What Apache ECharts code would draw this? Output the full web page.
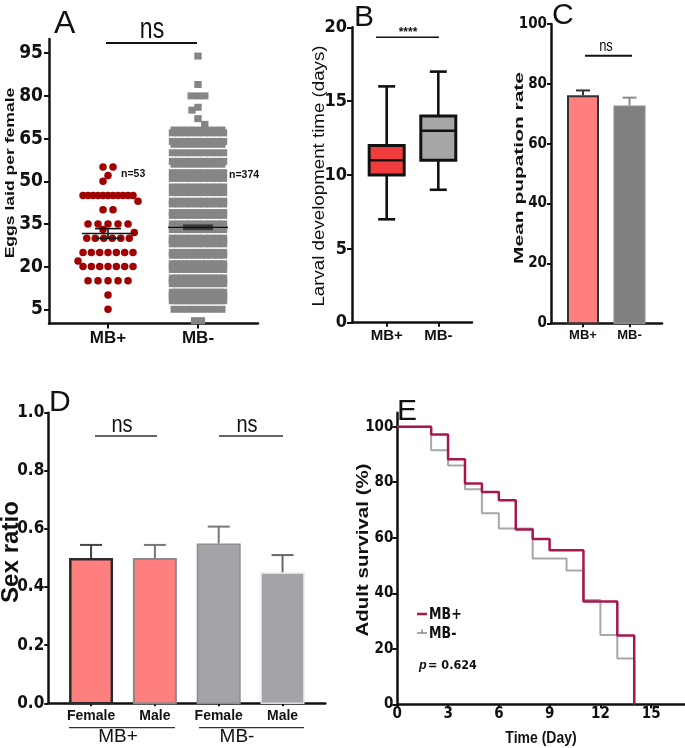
<!DOCTYPE html>
<html><head><meta charset="utf-8">
<script src="https://cdn.jsdelivr.net/npm/echarts@6/dist/echarts.min.js"></script>
<style>html,body{margin:0;padding:0;background:#fff}#c{width:685px;height:748px}</style>
</head><body><div id="c"></div>
<script>
// ---------------- DATA ----------------
const groups = ['MB+', 'MB-'];
const eggsTicks = [5, 20, 35, 50, 65, 80, 95];
const eggsMBplusValues = [55, 52, 50, 45, 43, 40, 35, 33, 32, 30, 25, 22, 20, 15, 10, 5];
const eggsMBplusCounts = [2, 1, 1, 11, 1, 2, 5, 1, 1, 6, 7, 1, 7, 5, 1, 1];
const eggsMBminusValues = [94, 84, 80, 76, 75, 72, 70, 68, 67, 64, 63, 60, 57, 56, 53, 52, 51, 48, 47, 46,
  43, 42, 39, 38, 35, 34, 33, 30, 29, 28, 25, 24, 21, 20, 19, 16, 15, 14, 11, 10, 9, 8, 5, 1];
const eggsMBminusCounts = [1, 1, 3, 1, 1, 1, 1, 8, 9, 9, 8, 9, 9, 8, 9, 8, 9, 9, 8, 9,
  9, 9, 9, 10, 9, 10, 9, 9, 10, 9, 9, 10, 13, 13, 13, 13, 13, 13, 13, 14, 13, 13, 8, 2];
const eggsN = ['n=53', 'n=374'];

const larvalTicks = [0, 5, 10, 15, 20];
const larvalMBplus = [7, 10, 11, 12, 16];   // min, Q1, median, Q3, max
const larvalMBminus = [9, 11, 13, 14, 17];

const pupationTicks = [0, 20, 40, 60, 80, 100];
const pupationMean = [76.2, 72.8];
const pupationSEM = [1.6, 2.6];

const sexTicks = [0, 0.2, 0.4, 0.6, 0.8, 1.0];
const sexLabels = ['Female', 'Male', 'Female', 'Male'];
const sexMean = [0.50, 0.50, 0.55, 0.45];
const sexSEM = [0.045, 0.045, 0.058, 0.06];

const dayTicks = [0, 3, 6, 9, 12, 15];
const survivalTicks = [0, 20, 40, 60, 80, 100];
const survivalDays = [0, 2, 3, 4, 5, 6, 7, 8, 9, 10, 11, 12, 13, 14];
const survivalMBplus = [100, 97.2, 88.3, 79.5, 76.5, 73.5, 63, 59.5, 55.5, 55.5, 37, 37, 24.8, 0];
const survivalMBminus = [100, 91.5, 86, 77.5, 68.8, 63.3, 63.3, 52.5, 52.5, 48.2, 37.6, 25, 16.5, 0];

// ---------------- STYLE / LAYOUT ----------------
const FONT = "'Liberation Sans', Arial, Helvetica, sans-serif";
const FONT_N = "'Liberation Sans Narrow', 'Arial Narrow', 'DejaVu Sans Condensed', 'Liberation Sans', sans-serif";
const INK = '#111';
const G = {
  A: {left: 49, top: 39, width: 209, height: 284.5, xmin: 0.344, xmax: 2.667, ymin: 0, ymax: 100},
  B: {left: 352, top: 27.3, width: 120, height: 295.4, xmin: 0.328, xmax: 2.653, ymin: 0, ymax: 20},
  C: {left: 551, top: 24, width: 111, height: 299.3, xmin: 0.312, xmax: 2.699, ymin: 0, ymax: 100},
  D: {left: 48.3, top: 412.7, width: 277, height: 290.6, xmin: 0.33, xmax: 4.67, ymin: 0, ymax: 1},
  E: {left: 397.3, top: 412.8, width: 287.7, height: 291.5, xmin: 0, xmax: 17, ymin: 0, ymax: 105}
};
const keys = ['A', 'B', 'C', 'D', 'E'];

function grid(g) {
  return {left: g.left, top: g.top, width: g.width, height: g.height, containLabel: false, outerBoundsMode: 'none'};
}
function axis(gi, g, isX, ticks, fmt, font, margin, tickLen, lw) {
  return {
    type: 'value', gridIndex: gi,
    min: isX ? g.xmin : g.ymin, max: isX ? g.xmax : g.ymax,
    axisLine: {show: true, onZero: false, lineStyle: {color: INK, width: lw}},
    axisTick: {show: true, customValues: ticks, length: tickLen, lineStyle: {color: INK, width: 2}},
    axisLabel: {show: true, customValues: ticks, formatter: fmt, margin: margin, color: INK,
      fontFamily: font.family, fontSize: font.size, fontWeight: 'bold'},
    splitLine: {show: false}
  };
}
const catFmt = v => groups[Math.round(v) - 1] || '';

// ---------------- beeswarm layout (A) ----------------
function swarm(values, counts, center, unitX, unitY, diam, spacing) {
  const placed = [], out = [];
  const idx = values.map((v, i) => i);
  const big = idx.filter(i => counts[i] > 2);
  const small = idx.filter(i => counts[i] <= 2).sort((a, b) => values[b] - values[a]);
  const put = (i, sh) => {
    const n = counts[i], s = spacing(n);
    for (let j = 0; j < n; j++) {
      const px = sh + (j - (n - 1) / 2) * s;
      placed.push([px, values[i] * unitY]);
      out.push([center + px / unitX, values[i]]);
    }
  };
  big.forEach(i => put(i, 0));
  let k = 0;
  small.forEach(i => {
    const n = counts[i], s = spacing(n), py = values[i] * unitY;
    const free = sh => {
      for (let j = 0; j < n; j++) {
        const px = sh + (j - (n - 1) / 2) * s;
        for (const q of placed) if (Math.hypot(q[0] - px, q[1] - py) < diam - 0.01) return false;
      }
      return true;
    };
    if (free(0)) { put(i, 0); return; }
    const sign = (k++ % 2 === 0) ? -1 : 1;
    for (let m = 1; m <= 120; m++) {
      const d = m * 0.25;
      if (free(sign * d)) { put(i, sign * d); return; }
      if (free(-sign * d)) { put(i, -sign * d); return; }
    }
    put(i, 0);
  });
  return out;
}
const uxA = G.A.width / (G.A.xmax - G.A.xmin);
const uyA = G.A.height / (G.A.ymax - G.A.ymin);
const plusPts = swarm(eggsMBplusValues, eggsMBplusCounts, 1, uxA, uyA, 7.5,
  n => n <= 5 ? 10 : Math.min(8.5, 50 / (n - 1)));
const minusPts = swarm(eggsMBminusValues, eggsMBminusCounts, 2, uxA, uyA, 6.5,
  n => n <= 1 ? 0 : Math.min(6.8, 51 / (n - 1)));

function stats(values, counts) {
  let n = 0, s = 0;
  values.forEach((v, i) => { n += counts[i]; s += v * counts[i]; });
  const m = s / n;
  let ss = 0;
  values.forEach((v, i) => { ss += counts[i] * (v - m) * (v - m); });
  return [m, Math.sqrt(ss / (n - 1)) / Math.sqrt(n)];
}
const plusStat = stats(eggsMBplusValues, eggsMBplusCounts);
const minusStat = stats(eggsMBminusValues, eggsMBminusCounts);

// ---------------- renderers ----------------
function meanSem(gi, x, st, opt) {
  return {
    type: 'custom', xAxisIndex: gi, yAxisIndex: gi, z: 6, data: [[x, st[0], st[1]]],
    renderItem(params, api) {
      const xv = api.value(0), m = api.value(1), e = api.value(2);
      const c = api.coord([xv, m]), t = api.coord([xv, m + e]), b = api.coord([xv, m - e]);
      const ch = [];
      if (opt.rect) {
        ch.push({type: 'rect', shape: {x: c[0] - opt.cap, y: t[1], width: 2 * opt.cap, height: Math.max(2.5, b[1] - t[1])},
          style: {fill: opt.semColor}});
      } else {
        ch.push({type: 'line', shape: {x1: c[0], y1: t[1], x2: c[0], y2: b[1]}, style: {stroke: opt.semColor, lineWidth: opt.lw}});
        ch.push({type: 'line', shape: {x1: c[0] - opt.cap, y1: t[1], x2: c[0] + opt.cap, y2: t[1]}, style: {stroke: opt.semColor, lineWidth: opt.lw}});
        ch.push({type: 'line', shape: {x1: c[0] - opt.cap, y1: b[1], x2: c[0] + opt.cap, y2: b[1]}, style: {stroke: opt.semColor, lineWidth: opt.lw}});
      }
      ch.push({type: 'line', shape: {x1: c[0] - opt.half, y1: c[1], x2: c[0] + opt.half, y2: c[1]}, style: {stroke: INK, lineWidth: opt.lw}});
      return {type: 'group', children: ch};
    }
  };
}

const boxFill = ['#f03c3c', '#a6a6a6'];
function boxSeries() {
  return {
    type: 'custom', xAxisIndex: 1, yAxisIndex: 1, z: 4,
    data: [[1].concat(larvalMBplus), [2].concat(larvalMBminus)],
    renderItem(params, api) {
      const x = api.value(0);
      const p = k => api.coord([x, api.value(k)]);
      const mn = p(1), q1 = p(2), md = p(3), q3 = p(4), mx = p(5);
      const cx = mn[0], hw = 17.5, cw = 8.5, st = {stroke: INK, lineWidth: 2.6};
      return {type: 'group', children: [
        {type: 'line', shape: {x1: cx, y1: mx[1], x2: cx, y2: q3[1]}, style: st},
        {type: 'line', shape: {x1: cx, y1: q1[1], x2: cx, y2: mn[1]}, style: st},
        {type: 'line', shape: {x1: cx - cw, y1: mx[1], x2: cx + cw, y2: mx[1]}, style: st},
        {type: 'line', shape: {x1: cx - cw, y1: mn[1], x2: cx + cw, y2: mn[1]}, style: st},
        {type: 'rect', shape: {x: cx - hw, y: q3[1], width: 2 * hw, height: q1[1] - q3[1]},
          style: {fill: boxFill[params.dataIndex], stroke: INK, lineWidth: 3}},
        {type: 'line', shape: {x1: cx - hw, y1: md[1], x2: cx + hw, y2: md[1]}, style: st}
      ]};
    }
  };
}

function barSeries(gi, xs, means, sems, opt) {
  return {
    type: 'custom', xAxisIndex: gi, yAxisIndex: gi, z: 4,
    data: xs.map((x, i) => [x, means[i], sems[i]]),
    renderItem(params, api) {
      const i = params.dataIndex, x = api.value(0), m = api.value(1), e = api.value(2);
      const b = api.coord([x, 0]), t = api.coord([x, m]), te = api.coord([x, m + e]);
      const hw = opt.width / 2, bw = opt.border[i];
      return {type: 'group', children: [
        {type: 'line', shape: {x1: t[0], y1: t[1], x2: t[0], y2: te[1]}, style: {stroke: opt.err[i], lineWidth: 2}},
        {type: 'line', shape: {x1: t[0] - opt.cap, y1: te[1], x2: t[0] + opt.cap, y2: te[1]}, style: {stroke: opt.err[i], lineWidth: 2}},
        {type: 'rect', shape: {x: b[0] - hw + bw / 2, y: t[1] + bw / 2, width: opt.width - bw, height: b[1] - t[1] - bw / 2},
          style: {fill: opt.fill[i], stroke: opt.stroke[i], lineWidth: bw}}
      ]};
    }
  };
}

// ---------------- graphic helpers ----------------
function txt(text, x, y, size, o) {
  o = o || {};
  const al = o.align || 'center';
  return {type: 'text', x: x, y: y, rotation: o.rot || 0, scaleX: o.sx || 1, scaleY: o.sy || 1, z: 100,
    style: {text: text, fill: o.color || INK, fontSize: size, fontWeight: o.weight || 'normal',
      fontStyle: o.style || 'normal', fontFamily: o.family || FONT,
      textAlign: al, align: al, textVerticalAlign: 'middle', verticalAlign: 'middle'}};
}
function ln(x1, y1, x2, y2, w, color) {
  return {type: 'line', z: 100, shape: {x1: x1, y1: y1, x2: x2, y2: y2}, style: {stroke: color || INK, lineWidth: w}};
}
const R = Math.PI / 2;

// ---------------- option ----------------
const option = {
  animation: false,
  backgroundColor: '#fff',
  grid: keys.map(k => grid(G[k])),
  xAxis: [
    axis(0, G.A, true, [1, 2], catFmt, {family: FONT, size: 17}, 6, 5, 2.5),
    axis(1, G.B, true, [1, 2], catFmt, {family: FONT, size: 15}, 6, 4, 2.5),
    axis(2, G.C, true, [1, 2], catFmt, {family: FONT, size: 13}, 6, 4, 2.5),
    axis(3, G.D, true, [1, 2, 3, 4], v => sexLabels[Math.round(v) - 1] || '', {family: FONT, size: 14}, 6, 3, 2.5),
    axis(4, G.E, true, dayTicks, v => String(v), {family: FONT_N, size: 15}, 2, 4, 2.5)
  ],
  yAxis: [
    axis(0, G.A, false, eggsTicks, v => String(v), {family: FONT_N, size: 19}, 6, 5, 2.5),
    axis(1, G.B, false, larvalTicks, v => String(v), {family: FONT_N, size: 18}, 5, 5, 2.5),
    axis(2, G.C, false, pupationTicks, v => String(v), {family: FONT_N, size: 15}, 4, 4, 2.5),
    axis(3, G.D, false, sexTicks, v => v.toFixed(1), {family: FONT_N, size: 17}, 4, 4, 2.5),
    axis(4, G.E, false, survivalTicks, v => String(v), {family: FONT_N, size: 15}, 4, 5, 2.5)
  ],
  series: [
    {type: 'scatter', xAxisIndex: 0, yAxisIndex: 0, data: plusPts, symbol: 'circle', symbolSize: 7.5,
      itemStyle: {color: '#a00000', opacity: 1}, z: 3},
    {type: 'scatter', xAxisIndex: 0, yAxisIndex: 0, data: minusPts, symbol: 'rect', symbolSize: [7.4, 7],
      itemStyle: {color: '#858585', opacity: 1}, z: 3},
    meanSem(0, 1, plusStat, {half: 26, cap: 13, lw: 1.6, semColor: INK}),
    meanSem(0, 2, minusStat, {half: 30, cap: 15, lw: 1.3, semColor: '#3c3c3c', rect: true}),
    boxSeries(),
    barSeries(2, [1, 2], pupationMean, pupationSEM, {width: 32, cap: 7,
      fill: ['#ff7f7f', '#808080'], stroke: ['#333333', '#8a8a8a'], border: [2, 1.5], err: ['#333333', '#8a8a8a']}),
    barSeries(3, [1, 2, 3, 4], sexMean, sexSEM, {width: 44, cap: 11,
      fill: ['#ff7f7f', '#ff7f7f', '#a3a3a8', '#a3a3a8'], stroke: ['#2a2a2a', '#8a8a8a', '#8e8e8e', '#dedede'],
      border: [2.5, 2, 1.5, 1.5], err: ['#444444', '#777777', '#777777', '#666666']}),
    {type: 'line', xAxisIndex: 4, yAxisIndex: 4, step: 'end', symbol: 'none', showSymbol: false, z: 3,
      data: survivalDays.map((d, i) => [d, survivalMBminus[i]]), lineStyle: {color: '#a8a8a8', width: 2}},
    {type: 'line', xAxisIndex: 4, yAxisIndex: 4, step: 'end', symbol: 'none', showSymbol: false, z: 4,
      data: survivalDays.map((d, i) => [d, survivalMBplus[i]]), lineStyle: {color: '#a8164f', width: 2.5}}
  ],
  graphic: [
    // Panel A
    txt('A', 54, 24, 32, {align: 'left'}),
    txt('ns', 152, 30, 23, {sy: 1.25}),
    ln(106, 43, 197, 43, 1.8),
    txt(eggsN[0], 121, 174, 10.5, {align: 'left', weight: 'bold'}),
    txt(eggsN[1], 229, 175, 10.5, {align: 'left', weight: 'bold'}),
    txt('Eggs laid per female', 10, 173, 13, {rot: R, sx: 1.35, weight: 'bold'}),
    // Panel B
    txt('B', 354, 18, 30, {align: 'left'}),
    txt('****', 408, 33, 12, {weight: 'bold'}),
    ln(376, 37.3, 439, 37.3, 1.5),
    txt('Larval development time (days)', 320, 176, 16, {rot: R, sx: 1.17}),
    // Panel C
    txt('C', 552, 16, 30, {align: 'left'}),
    txt('ns', 606, 46, 13, {sy: 1.3}),
    ln(585, 55.7, 632, 55.7, 2),
    txt('Mean pupation rate', 519, 168, 13.5, {rot: R, sx: 1.55, weight: 'bold'}),
    // Panel D
    txt('D', 49, 403, 30, {align: 'left'}),
    txt('ns', 122, 425, 20, {sy: 1.2}),
    ln(95, 436, 157, 436, 1.5, '#333'),
    txt('ns', 247, 425, 20, {sy: 1.2}),
    ln(219, 436, 283, 436, 1.5, '#333'),
    ln(69, 727.7, 175, 727.7, 1.3, '#333'),
    ln(199, 727.7, 304, 727.7, 1.3, '#333'),
    txt(groups[0], 118, 737, 19),
    txt(groups[1], 237, 737, 19),
    txt('Sex ratio', 12, 552, 23, {rot: R, sx: 1.05, weight: 'bold'}),
    // Panel E
    txt('E', 397, 412, 30, {align: 'left'}),
    txt('Adult survival (%)', 364, 550, 16, {rot: R, sx: 1.28, weight: 'bold'}),
    txt('Time (Day)', 541, 739, 14, {weight: 'bold', sy: 1.15}),
    ln(417, 614, 427, 614, 2.5, '#a8164f'),
    txt(groups[0], 429, 615, 14, {align: 'left', weight: 'bold', family: FONT_N, sy: 1.1}),
    ln(417, 633, 427, 633, 2, '#a8a8a8'),
    ln(422, 629.5, 422, 633, 1.5, '#888'),
    txt(groups[1], 429, 634, 14, {align: 'left', weight: 'bold', family: FONT_N, sy: 1.1}),
    txt('p', 419, 666, 12.5, {align: 'left', weight: 'bold', style: 'italic'}),
    txt('= 0.624', 428, 666, 12.5, {align: 'left', weight: 'bold', family: FONT_N})
  ]
};
const chart = echarts.init(document.getElementById('c'), null, {renderer: 'canvas'});
chart.setOption(option);
</script>
</body></html>
